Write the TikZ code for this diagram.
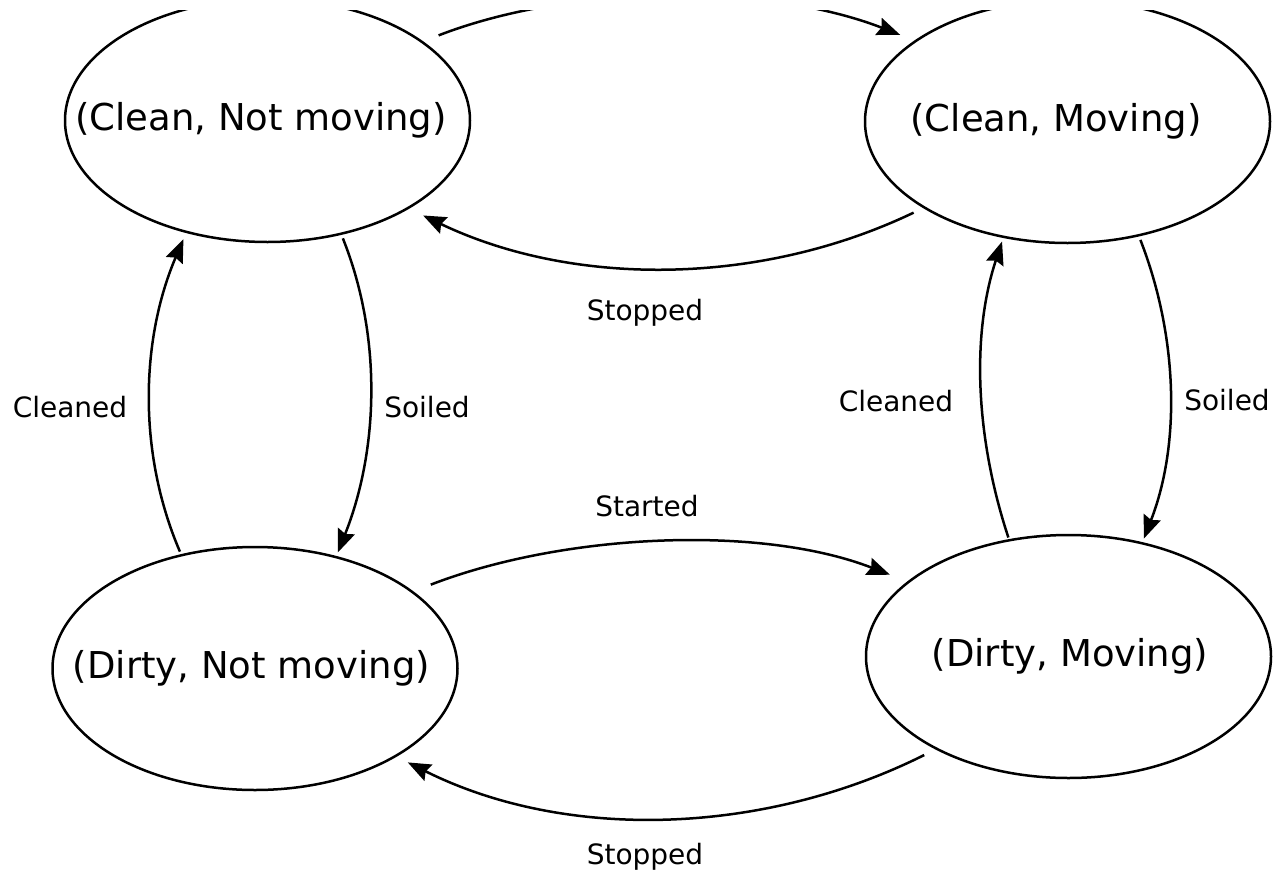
\documentclass[tikz,border=0pt]{standalone}
\usepackage{fontspec}
\setmainfont{DejaVu Sans}
\usetikzlibrary{arrows.meta,shapes.geometric}

% state text, nudged sideways by #1 inside its ellipse
\newcommand{\statetext}[2]{\makebox[0pt]{\hspace*{#1}\raisebox{-3pt}{#2}}}

\begin{document}
\begin{tikzpicture}[x=1pt,y=-1pt,
  state/.style={draw, ellipse, line width=2.5pt, minimum width=405pt,
    minimum height=243pt, inner sep=0pt, outer sep=0pt,
    font=\fontsize{37}{44}\selectfont},
  trans/.style={line width=2.5pt,
    -{Stealth[length=23pt,width=18pt,inset=3pt]}},
  edgelabel/.style={font=\fontsize{28}{34}\selectfont, inner sep=0pt}]

\useasboundingbox (0,0) rectangle (1275,873);
\fill[white] (0,0) rectangle (1275,873);

\begin{scope}
\clip (0,10) rectangle (1275,873);

% states
\node[state] (cn) at (267.5,120.5) {\statetext{-13pt}{(Clean, Not moving)}};
\node[state] (cm) at (1067.5,121.5) {\statetext{-23pt}{(Clean, Moving)}};
\node[state] (dn) at (255,668.5)    {\statetext{-7pt}{(Dirty, Not moving)}};
\node[state] (dm) at (1068.5,656.5) {\statetext{3pt}{(Dirty, Moving)}};

% started / stopped
\draw[trans, shorten <=18pt, shorten >=17pt]
  (cn.27) .. controls +(150,-58) and +(-150,-58) .. (cm.152.8);
\draw[trans, shorten <=20pt, shorten >=20pt]
  (dn.26.7) .. controls +(150,-58) and +(-150,-58) .. (dm.155.4);
\draw[trans, shorten <=12pt, shorten >=17pt]
  (cm.211.4) .. controls +(-165,79) and +(165,79) .. (cn.-32.1);
\draw[trans, shorten <=14pt, shorten >=14pt]
  (dm.215.2) .. controls +(-172,86) and +(172,86) .. (dn.-32.9);

% cleaned / soiled
\draw[trans, shorten <=4pt, shorten >=8pt]
  (dn.123.6) .. controls +(-45,-105) and +(-45,105) .. (cn.234.4);
\draw[trans, shorten <=5pt, shorten >=5pt]
  (cn.-57.7) .. controls +(42,105) and +(42,-105) .. (dn.54.7);
\draw[trans, shorten <=3pt, shorten >=5pt]
  (dm.117.1) .. controls +(-33,-100) and +(-33,100) .. (cm.241.7);
\draw[trans, shorten <=5pt, shorten >=5pt]
  (cm.-58.4) .. controls +(39,100) and +(39,-100) .. (dm.57.9);

% labels
\node[edgelabel] (lstart) at (647,506) {Started};
\node[edgelabel] (lstop1) at (645,313) {Stopped};
\node[edgelabel] (lstop2) at (645,857) {Stopped};
\node[edgelabel] (lcl1)   at (70,407)  {Cleaned};
\node[edgelabel] (lso1)   at (427,407) {Soiled};
\node[edgelabel] (lcl2)   at (896,401) {Cleaned};
\node[edgelabel] (lso2)   at (1227,400) {Soiled};
\end{scope}
\end{tikzpicture}
\end{document}
